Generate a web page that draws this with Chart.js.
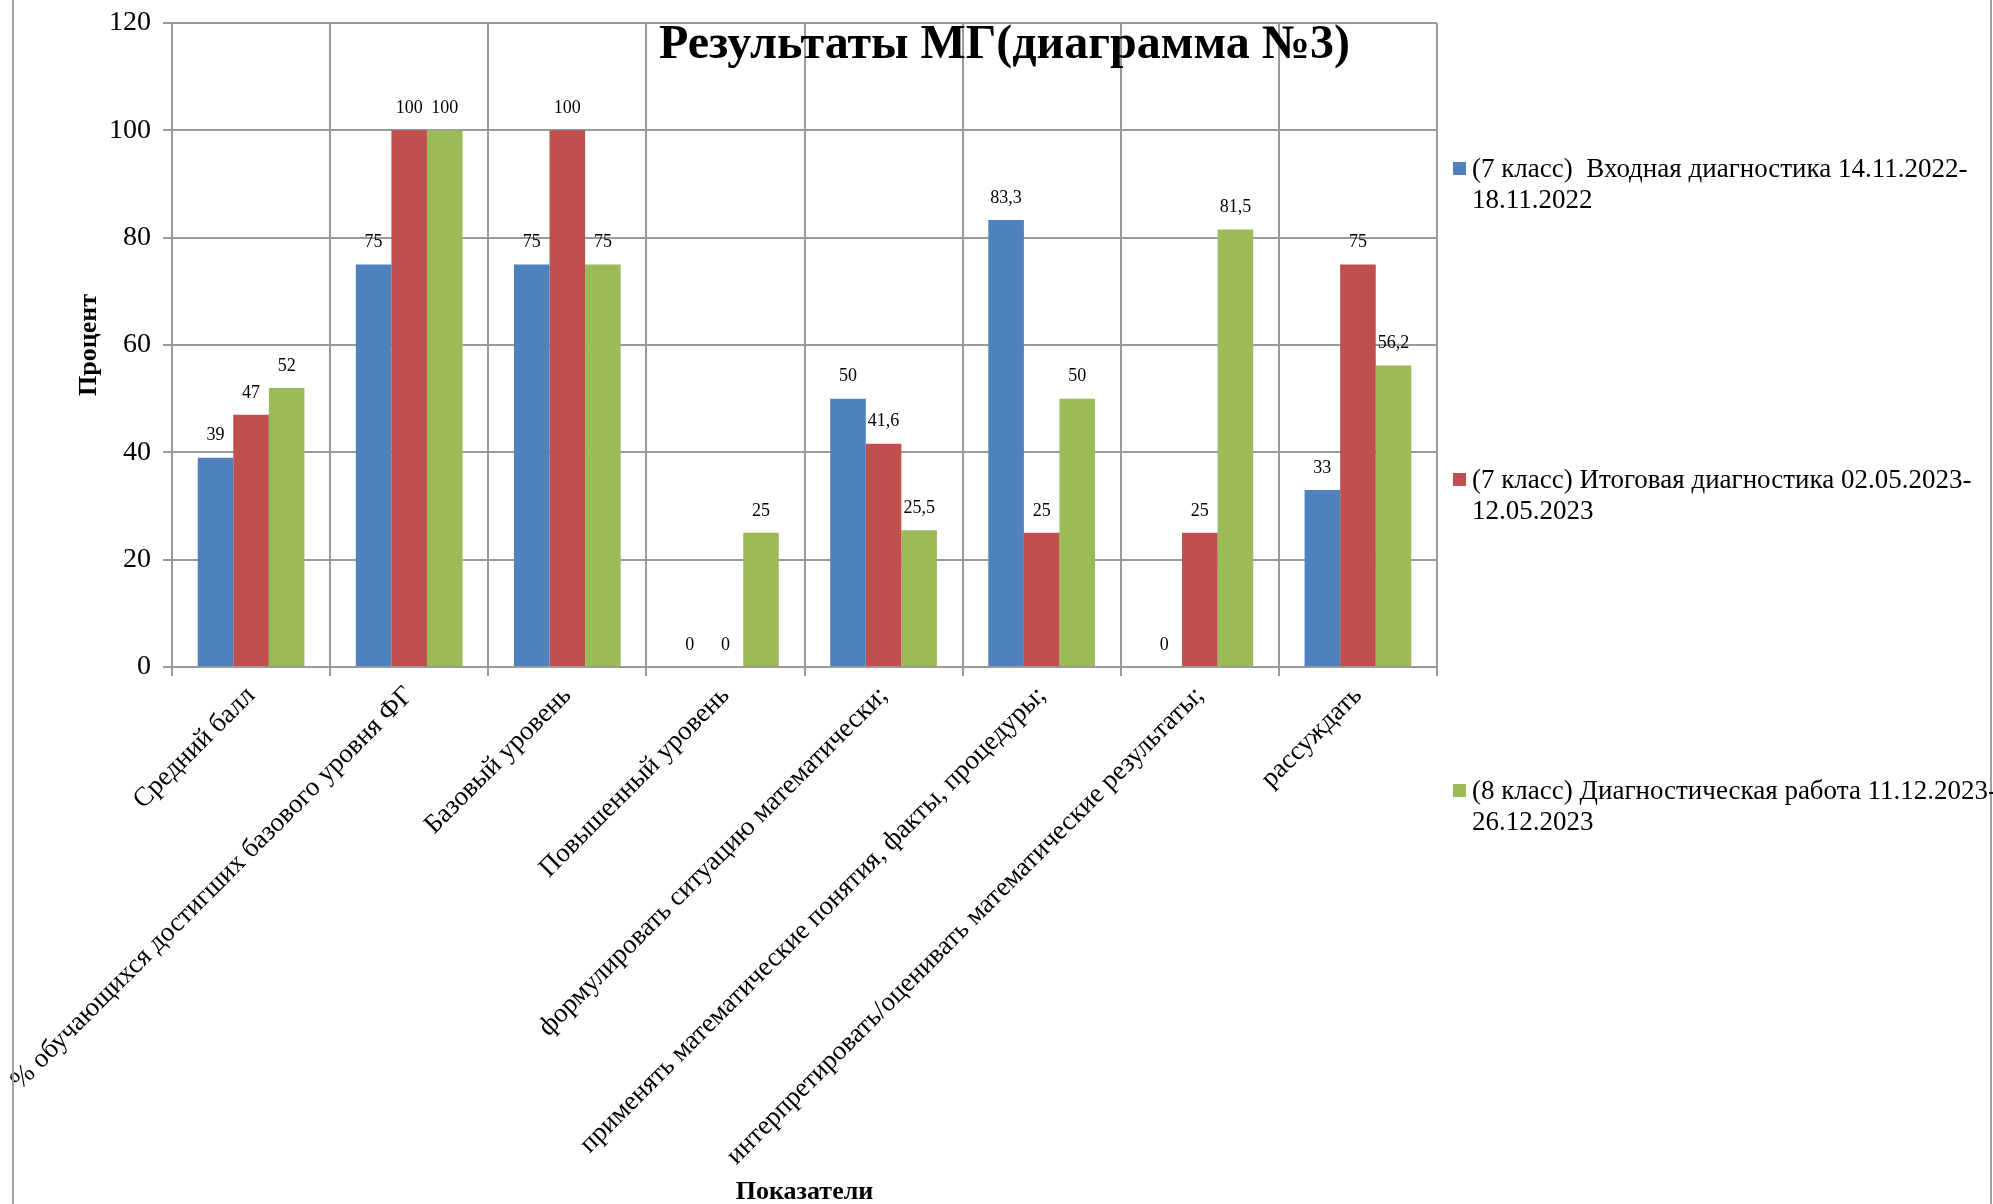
<!DOCTYPE html>
<html>
<head>
<meta charset="utf-8">
<script src="https://cdn.jsdelivr.net/npm/chart.js@4.4.1/dist/chart.umd.min.js"></script>
<style>
  body { margin: 0; background: #fff; }
  #wrap { position: relative; width: 1993px; height: 1204px; overflow: hidden; }
  #frame { position: absolute; left: 12px; top: 0; width: 1980px; height: 1204px; border-left: 2px solid #a0a0a0; border-right: 2px solid #a0a0a0; box-sizing: border-box; pointer-events: none; }
  #legend { position: absolute; left: 1453px; top: 0; font-family: "Liberation Serif", serif; font-size: 27px; line-height: 31px; color: #000; }
  .item { position: absolute; left: 0; white-space: pre; }
  .box { position: absolute; left: 0; top: 9px; width: 13px; height: 13px; }
  .txt { position: absolute; left: 19px; top: 0; }
</style>
</head>
<body>
<div id="wrap">
  <canvas id="chart"></canvas>
  <div id="frame"></div>
  <div id="legend"></div>
</div>
<script>
var categories = [
  'Средний балл',
  '% обучающихся достигших базового уровня ФГ',
  'Базовый уровень',
  'Повышенный уровень',
  'формулировать ситуацию математически;',
  'применять математические понятия, факты, процедуры;',
  'интерпретировать/оценивать математические результаты;',
  'рассуждать'
];
var seriesNames = [
  '(7 класс)  Входная диагностика 14.11.2022-18.11.2022',
  '(7 класс) Итоговая диагностика 02.05.2023-12.05.2023',
  '(8 класс) Диагностическая работа 11.12.2023-26.12.2023'
];
var entryValues = [39, 75, 75, 0, 50, 83.3, 0, 33];
var finalValues = [47, 100, 100, 0, 41.6, 25, 25, 75];
var grade8Values = [52, 100, 75, 25, 25.5, 50, 81.5, 56.2];
var seriesColors = ['#4F81BD', '#C0504D', '#9BBB59'];

var serif = '"Liberation Serif", "Times New Roman", serif';
var gridColor = '#9a9a9a';

// numbers above the bars, comma as decimal mark
var valueLabels = {
  id: 'valueLabels',
  afterDatasetsDraw: function (chart) {
    var ctx = chart.ctx;
    ctx.save();
    ctx.font = '18px ' + serif;
    ctx.fillStyle = '#000';
    ctx.textAlign = 'center';
    ctx.textBaseline = 'middle';
    chart.data.datasets.forEach(function (ds, i) {
      chart.getDatasetMeta(i).data.forEach(function (bar, j) {
        ctx.fillText(String(ds.data[j]).replace('.', ','), bar.x, bar.y - 22);
      });
    });
    ctx.restore();
  }
};

// title sits inside the plot, over the gridlines
var chartTitle = {
  id: 'chartTitle',
  afterDraw: function (chart) {
    var ctx = chart.ctx;
    ctx.save();
    ctx.font = 'bold 48px ' + serif;
    ctx.fillStyle = '#000';
    ctx.textAlign = 'center';
    ctx.textBaseline = 'alphabetic';
    ctx.fillText('Результаты МГ(диаграмма №3)', chart.width / 2 + 8, 58);
    ctx.restore();
  }
};

var allValues = [entryValues, finalValues, grade8Values];
var datasets = [];
for (let i = 0; i < seriesNames.length; i++) {
  datasets.push({
    label: seriesNames[i],
    data: allValues[i],
    backgroundColor: seriesColors[i],
    borderWidth: 0,
    categoryPercentage: 0.675,
    barPercentage: 1.0
  });
}

var ctx = document.getElementById('chart').getContext('2d');
var chart = new Chart(ctx, {
  type: 'bar',
  data: { labels: categories, datasets: datasets },
  options: {
    responsive: true,
    maintainAspectRatio: false,
    animation: false,
    layout: { padding: { left: 0, right: 556, top: 23, bottom: 0 } },
    plugins: {
      legend: { display: false },
      tooltip: { enabled: false }
    },
    scales: {
      x: {
        grid: { color: gridColor, lineWidth: 2, tickLength: 9, offset: true },
        border: { color: gridColor, width: 2 },
        ticks: { color: '#000', font: { family: serif, size: 27 }, minRotation: 45, maxRotation: 45, autoSkip: false, padding: 4 },
        title: { display: true, text: 'Показатели', color: '#000', font: { family: serif, size: 26, weight: 'bold' }, padding: { top: 0, bottom: -4 } },
        afterFit: function (scale) { scale.height = 537; }
      },
      y: {
        min: 0,
        max: 120,
        grid: { color: gridColor, lineWidth: 2, tickLength: 9 },
        border: { color: gridColor, width: 2 },
        ticks: { stepSize: 20, color: '#000', font: { family: serif, size: 28 }, padding: 12 },
        title: { display: true, text: 'Процент', color: '#000', font: { family: serif, size: 26, weight: 'bold' }, padding: { top: 74, bottom: 0 } },
        afterFit: function (scale) {
          scale.width = 172;
          scale.paddingTop = 0;
          scale.paddingBottom = 0;
        }
      }
    }
  },
  plugins: [valueLabels, chartTitle]
});

// legend on the right, each name broken after the first hyphen
var legend = document.getElementById('legend');
for (let i = 0; i < seriesNames.length; i++) {
  var item = document.createElement('div');
  item.className = 'item';
  item.style.top = (153 + i * 311) + 'px';
  var box = document.createElement('div');
  box.className = 'box';
  box.style.background = seriesColors[i];
  var txt = document.createElement('div');
  txt.className = 'txt';
  txt.textContent = seriesNames[i].replace('-', '-\n');
  item.appendChild(box);
  item.appendChild(txt);
  legend.appendChild(item);
}
</script>
</body>
</html>
